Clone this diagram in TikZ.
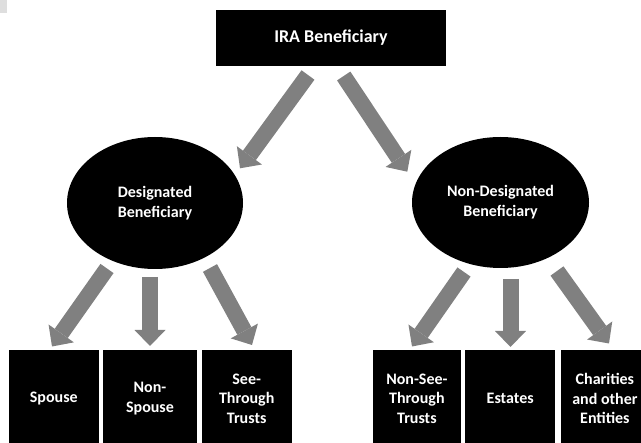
\documentclass[tikz,border=0pt]{standalone}
\usepackage{fontspec}
\setmainfont{Carlito}
\usetikzlibrary{arrows.meta,shapes.geometric}
\definecolor{arrowgray}{HTML}{808080}
\definecolor{cornergray}{HTML}{DEDEDE}
\begin{document}
\begin{tikzpicture}[x=1pt,y=-1pt,
  blackbox/.style={rectangle, fill=black, text=white, inner sep=0pt, align=center,
    font=\bfseries\fontsize{16}{19.5}\selectfont},
  blackoval/.style={ellipse, fill=black, text=white, inner sep=0pt, align=center,
    font=\bfseries\fontsize{16}{20}\selectfont},
  blockarrow/.style={draw=arrowgray, line width=16pt,
    -{Triangle[width=31pt,length=16pt,line width=0pt]}}]
\useasboundingbox (0,0) rectangle (641,443);
\clip (0,0) rectangle (641,443);
\fill[cornergray] (0,0) rectangle (7,13);

% top box
\node[blackbox, minimum width=230pt, minimum height=56pt,
  font=\bfseries\fontsize{18}{21}\selectfont] (top) at (331,38) {IRA Beneficiary};

% ellipses
\node[blackoval, minimum width=176pt, minimum height=132pt] (desig) at (155,203)
  {Designated\\Beneficiary};
\node[blackoval, minimum width=177pt, minimum height=131pt] (nondesig) at (500.5,202.5)
  {Non-Designated\\Beneficiary};

% bottom boxes
\node[blackbox, minimum width=89.7pt, minimum height=97pt] (spouse) at (53.8,398.5) {Spouse};
\node[blackbox, minimum width=94.6pt, minimum height=97pt] (nonspouse) at (150,398.5) {Non-\\Spouse};
\node[blackbox, minimum width=90pt, minimum height=97pt] (seethrough) at (246.7,398.5) {See-\\Through\\Trusts};
\node[blackbox, minimum width=88.3pt, minimum height=97pt] (nonsee) at (416.9,398.5) {Non-See-\\Through\\Trusts};
\node[blackbox, minimum width=89.7pt, minimum height=97pt] (estates) at (510.2,398.5) {Estates};
\node[blackbox, minimum width=88.3pt, minimum height=97pt] (charities) at (604.9,398.5) {Charities\\and other\\Entities};

% arrow end points
\coordinate (a1s) at (308,75);    \coordinate (a1e) at (240,168.3);
\coordinate (a2s) at (343.7,76);  \coordinate (a2e) at (407.3,171.7);
\coordinate (a3s) at (107,268.5); \coordinate (a3e) at (52,346.5);
\coordinate (a4s) at (150,277);   \coordinate (a4e) at (150,346);
\coordinate (a5s) at (210,268);   \coordinate (a5e) at (252,345);
\coordinate (a6s) at (464,272);   \coordinate (a6e) at (412,346.5);
\coordinate (a7s) at (510.5,279); \coordinate (a7e) at (510.5,347);
\coordinate (a8s) at (557,271);   \coordinate (a8e) at (609,343.5);

\draw[blockarrow] (a1s) -- (a1e);
\draw[blockarrow] (a2s) -- (a2e);
\draw[blockarrow] (a3s) -- (a3e);
\draw[blockarrow] (a4s) -- (a4e);
\draw[blockarrow] (a5s) -- (a5e);
\draw[blockarrow] (a6s) -- (a6e);
\draw[blockarrow] (a7s) -- (a7e);
\draw[blockarrow] (a8s) -- (a8e);
\end{tikzpicture}
\end{document}
